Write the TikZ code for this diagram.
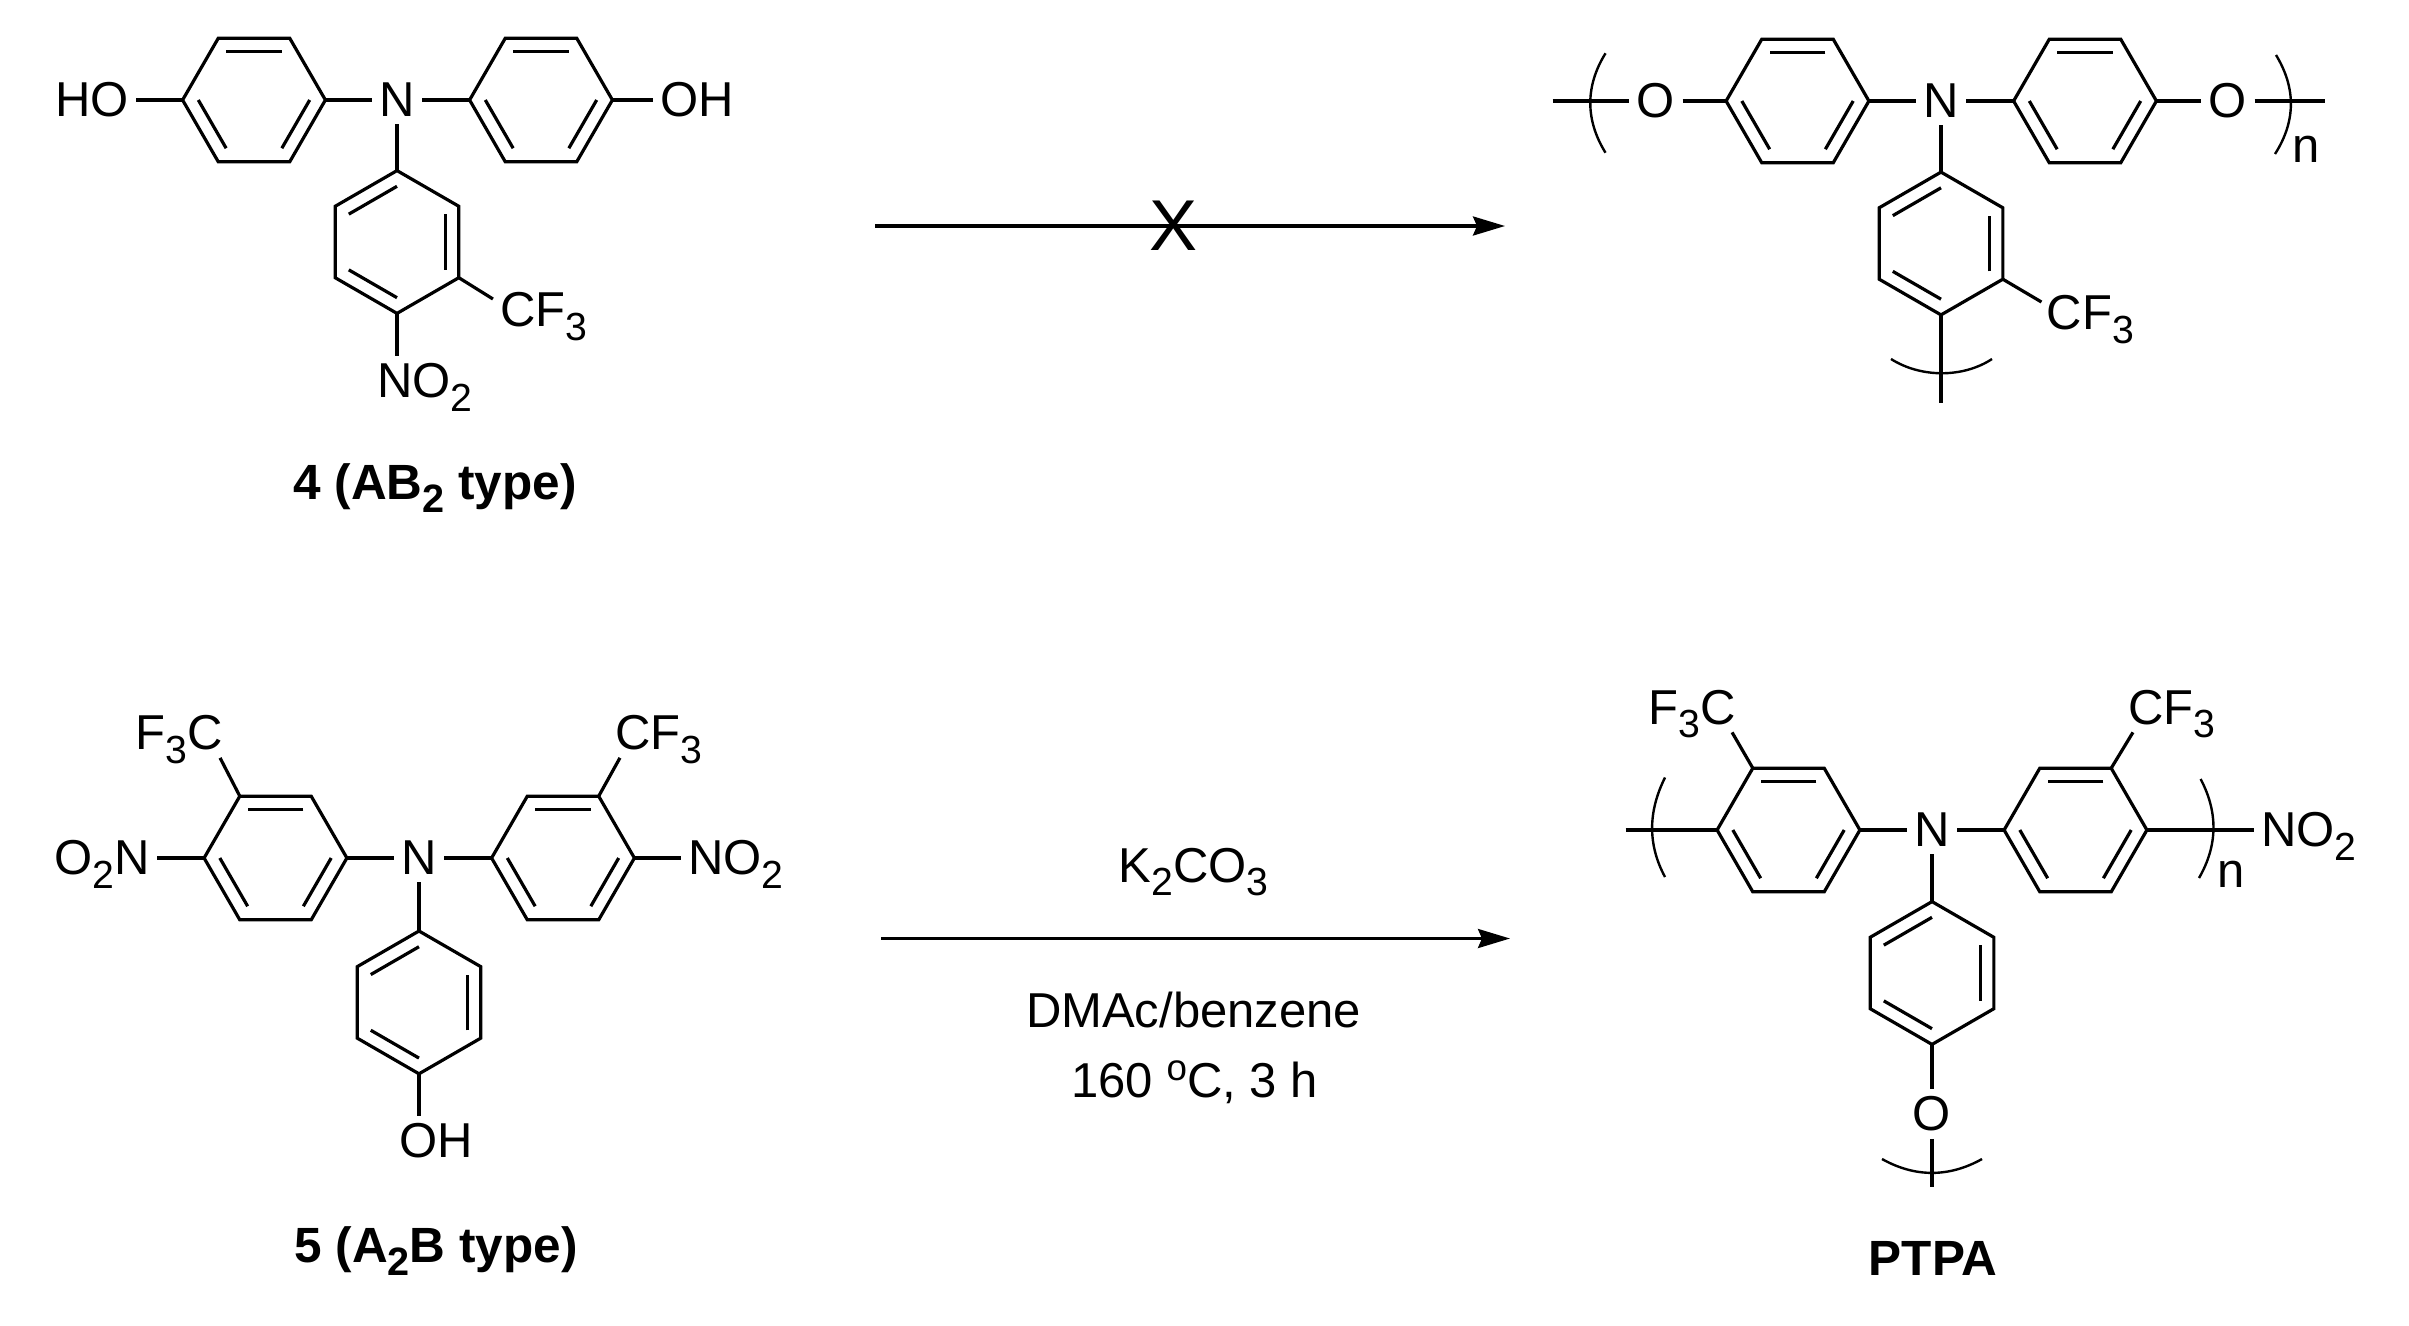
\documentclass[tikz,border=0pt]{standalone}
\usepackage{fontspec}
\setmainfont{Liberation Sans}
\usetikzlibrary{calc,arrows.meta}

\newcommand{\chemsub}[1]{\smash{\raisebox{-.27em}{\scalebox{.8}{#1}}}}
\newcommand{\chemdeg}{\raisebox{.33em}{\scalebox{.75}{o}}}
\newcommand{\benzring}[4]{
    \coordinate (#1-c) at (#2,#3);
    \foreach \i in {1,...,6}{
      \coordinate (#1-\i) at ({#2+71.4*cos(#4+60*(\i-1))},{#3-71.4*sin(#4+60*(\i-1))});
    }
    \draw[bond] (#1-1) -- (#1-2) -- (#1-3) -- (#1-4) -- (#1-5) -- (#1-6) -- cycle;
    \foreach \p/\q in {2/3,4/5,6/1}{
      \draw[bond] ($(#1-c)!.78!(#1-\p)$) -- ($(#1-c)!.78!(#1-\q)$);
    }
}
\tikzset{
    bond/.style={line width=3.2pt, line join=miter},
    brk/.style={line width=2.4pt},
    atom/.style={inner sep=0pt, outer sep=7.5pt, font=\fontsize{49}{55}\selectfont},
    molname/.style={inner sep=0pt, anchor=base, font=\bfseries\fontsize{49.5}{56}\selectfont},
    rxnarrow/.style={line width=3.2pt, -{Stealth[length=32pt,width=19pt,inset=4pt]}},
}

\begin{document}
\begin{tikzpicture}[x=1pt,y=-1pt]
    \useasboundingbox (0,0) rectangle (2409,1325);

    % monomer 4
    \benzring{aL}{254}{100}{0}
    \benzring{aR}{541}{100}{0}
    \benzring{aB}{397}{242}{30}
    \node[atom] (aN) at (397,100) {N};
    \node[atom] (aHO) at (92,100) {HO};
    \node[atom] (aOH) at (697,100) {OH};
    \node[atom] (aCF) at (544,310) {CF\chemsub{3}};
    \node[atom] (aNO) at (425,381) {NO\chemsub{2}};
    \draw[bond] (aHO) -- (aL-4);
    \draw[bond] (aL-1) -- (aN);
    \draw[bond] (aN) -- (aR-4);
    \draw[bond] (aR-1) -- (aOH);
    \draw[bond] (aN) -- (aB-2);
    \draw[bond] (aB-6) -- ($(aCF.west)+(0,-11)$);
    \draw[bond] (aB-5) -- (aB-5 |- aNO.north);
    \node[molname] (aName) at (435,499) {4 (AB\chemsub{2} type)};

    % polymer from 4
    \benzring{bL}{1797.5}{101}{0}
    \benzring{bR}{2085}{101}{0}
    \benzring{bB}{1941}{243.5}{30}
    \node[atom] (bN) at (1941,101) {N};
    \node[atom] (bOl) at (1656,101) {O};
    \node[atom] (bOr) at (2228,101) {O};
    \node[atom] (bCF) at (2090.5,313) {CF\chemsub{3}};
    \node[atom, anchor=base] (bn) at (2306,162) {n};
    \coordinate (bEl) at (1552.5,101);
    \coordinate (bEr) at (2325,101);
    \coordinate (bEb) at (1941,403.3);
    \draw[bond] (bEl) -- (bOl);
    \draw[bond] (bOl) -- (bL-4);
    \draw[bond] (bL-1) -- (bN);
    \draw[bond] (bN) -- (bR-4);
    \draw[bond] (bR-1) -- (bOr);
    \draw[bond] (bOr) -- (bEr);
    \draw[bond] (bN) -- (bB-2);
    \draw[bond] (bB-6) -- ($(bCF.west)+(2,-11)$);
    \draw[bond] (bB-5) -- (bEb);
    \draw[brk] (1605.5,53.3) .. controls (1585.2,86) and (1585.2,120) .. (1605.5,152.7);
    \draw[brk] (2276,55) .. controls (2296,88) and (2296,121) .. (2275,154);
    \draw[brk] (1891,359) .. controls (1921,378) and (1963,378) .. (1992,359);

    % monomer 5
    \benzring{cL}{275.5}{858}{0}
    \benzring{cR}{563}{858}{0}
    \benzring{cB}{419}{1002.4}{30}
    \node[atom] (cN) at (419,858) {N};
    \node[atom] (cON) at (102,858) {O\chemsub{2}N};
    \node[atom] (cNO) at (736,858) {NO\chemsub{2}};
    \node[atom] (cFC) at (179,733) {F\chemsub{3}C};
    \node[atom] (cCF) at (659,733) {CF\chemsub{3}};
    \node[atom] (cOH) at (436,1141) {OH};
    \draw[bond] (cON) -- (cL-4);
    \draw[bond] (cL-1) -- (cN);
    \draw[bond] (cN) -- (cR-4);
    \draw[bond] (cR-1) -- (cNO);
    \draw[bond] (cN) -- (cB-2);
    \draw[bond] (cL-3) -- ($(cFC.south east)+(-10,0)$);
    \draw[bond] (cR-2) -- ($(cCF.south west)+(12,0)$);
    \draw[bond] (cB-5) -- (cB-5 |- cOH.north);
    \node[molname] (cName) at (436,1262.5) {5 (A\chemsub{2}B type)};

    % polymer PTPA
    \benzring{dL}{1788.5}{830}{0}
    \benzring{dR}{2075.5}{830}{0}
    \benzring{dB}{1932}{973}{30}
    \node[atom] (dN) at (1932,830) {N};
    \node[atom] (dNO) at (2309,830) {NO\chemsub{2}};
    \node[atom] (dFC) at (1692,707.5) {F\chemsub{3}C};
    \node[atom] (dCF) at (2172,707.5) {CF\chemsub{3}};
    \node[atom] (dO) at (1932,1114) {O};
    \node[atom, anchor=base] (dn) at (2231,887.5) {n};
    \coordinate (dEl) at (1625.5,830);
    \coordinate (dEb) at (1932,1187);
    \draw[bond] (dEl) -- (dL-4);
    \draw[bond] (dL-1) -- (dN);
    \draw[bond] (dN) -- (dR-4);
    \draw[bond] (dR-1) -- (dNO);
    \draw[bond] (dN) -- (dB-2);
    \draw[bond] (dL-3) -- ($(dFC.south east)+(-11,0)$);
    \draw[bond] (dR-2) -- ($(dCF.south west)+(12,0)$);
    \draw[bond] (dB-5) -- (dO);
    \draw[bond] (dO) -- (dEb);
    \draw[brk] (1665,777.5) .. controls (1647.8,812) and (1647.8,845) .. (1665,877);
    \draw[brk] (2200.6,779) .. controls (2218,812) and (2218,845) .. (2199,878);
    \draw[brk] (1882,1159) .. controls (1915,1177.5) and (1949,1177.5) .. (1982,1159);
    \node[molname] (dName) at (1933,1275) {PTPA};

    % reactions
    \coordinate (topS) at (875,226);
    \coordinate (topE) at (1505,226);
    \draw[rxnarrow] (topS) -- (topE);
    \node[inner sep=0pt, font=\fontsize{72}{78}\selectfont] (blocked) at (1173.5,226) {X};
    \coordinate (botS) at (881,938.5);
    \coordinate (botE) at (1510,938.5);
    \draw[rxnarrow] (botS) -- (botE);
    \node[atom, anchor=base] (base) at (1193.5,882.5) {K\chemsub{2}CO\chemsub{3}};
    \node[atom, anchor=base] (solv) at (1193.5,1027) {DMAc/benzene};
    \node[atom, anchor=base] (cond) at (1194.5,1097) {160 \chemdeg C, 3 h};
\end{tikzpicture}
\end{document}
